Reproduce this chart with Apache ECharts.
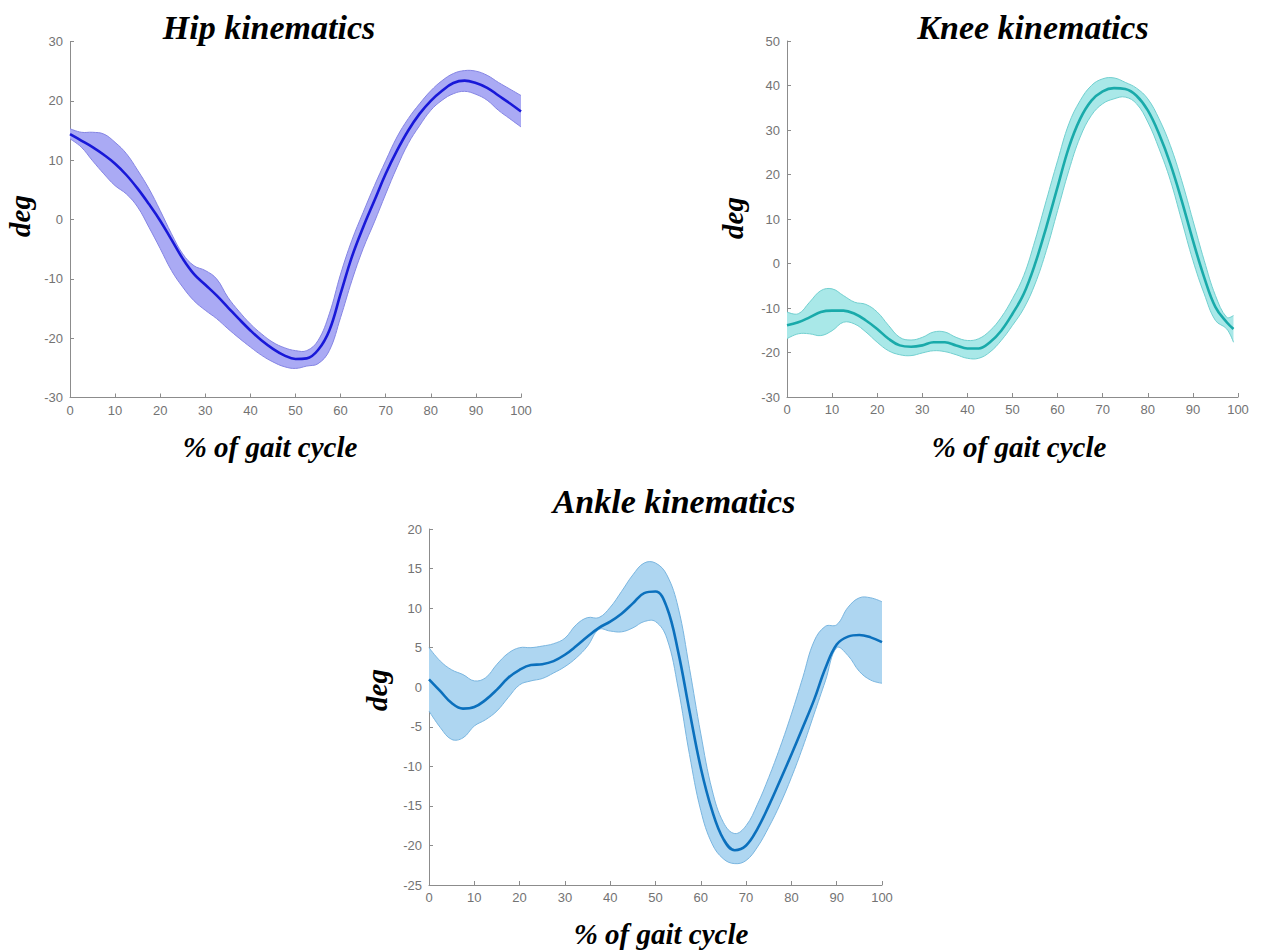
<!DOCTYPE html>
<html><head><meta charset="utf-8">
<script src="https://cdn.jsdelivr.net/npm/echarts@6/dist/echarts.min.js"></script>
<style>html,body{margin:0;padding:0;background:#fff}#c{width:1268px;height:951px}</style>
</head><body><div id="c"></div>
<script>
// % of gait cycle sample points
const pct = [0,2.5,5,7.5,10,12.5,15,17.5,20,22.5,25,27.5,30,32.5,35,37.5,40,42.5,45,47.5,50,52.5,55,57.5,60,62.5,65,67.5,70,72.5,75,77.5,80,82.5,85,87.5,90,92.5,95,97.5,100];
const kneePct = [0,2.5,5,7.5,10,12.5,15,17.5,20,22.5,25,27.5,30,32.5,35,37.5,40,42.5,45,47.5,50,52.5,55,57.5,60,62.5,65,67.5,70,72.5,75,77.5,80,82.5,85,87.5,90,92.5,95,97.5,99];

const hipMean  = [14.4,13.3,12.2,10.9,9.4,7.5,5.2,2.6,-0.2,-3.4,-6.6,-9.2,-11.0,-12.8,-14.8,-16.8,-18.7,-20.4,-21.8,-22.9,-23.5,-23.4,-22.0,-18.7,-12.5,-6.3,-1.3,3.2,7.7,11.6,15.0,17.8,20.0,21.7,23.0,23.4,23.0,22.2,20.9,19.6,18.2];
const hipUpper = [15.3,14.7,14.7,14.4,13.0,11.1,8.3,5.2,1.5,-2.4,-5.8,-7.8,-8.6,-10.0,-13.1,-15.5,-17.6,-19.3,-20.7,-21.6,-22.1,-22.1,-20.4,-15.9,-9.2,-3.5,1.2,5.7,9.9,13.9,17.0,19.5,21.7,23.4,24.6,25.1,25.0,24.3,23.1,22.0,20.9];
const hipLower = [13.6,12.2,9.9,7.7,5.7,4.3,2.1,-1.3,-4.9,-8.6,-11.4,-13.7,-15.3,-16.7,-18.4,-20.0,-21.5,-22.9,-24.0,-24.8,-25.1,-24.7,-24.3,-22.1,-16.5,-10.3,-4.9,-0.4,4.3,8.8,12.8,15.8,18.4,20.1,21.2,21.6,21.1,20.1,18.4,17.0,15.6];

const kneeMean  = [-13.9,-13.2,-12.1,-10.9,-10.6,-10.6,-11.3,-12.8,-14.7,-16.9,-18.4,-18.7,-18.4,-17.7,-17.7,-18.4,-19.1,-19.1,-17.7,-15.1,-11.3,-6.8,-0.1,8.2,17.2,26.1,32.5,36.6,38.7,39.4,39.2,37.7,34.4,29.1,22.4,14.2,5.2,-3.1,-9.8,-13.2,-14.7];
const kneeUpper = [-10.9,-11.3,-8.7,-6.1,-5.7,-7.2,-8.7,-9.2,-10.9,-13.9,-16.6,-17.2,-16.6,-15.4,-15.4,-16.6,-17.3,-16.9,-15.1,-12.1,-7.9,-2.7,5.2,14.2,23.1,31.4,36.6,40.0,41.5,41.7,40.7,39.4,37.0,32.5,26.5,18.7,9.7,0.7,-7.2,-12.1,-11.7];
const kneeLower = [-16.9,-15.8,-15.8,-16.2,-15.1,-13.2,-13.6,-15.4,-17.7,-19.6,-20.5,-20.7,-20.1,-19.6,-19.8,-20.5,-21.3,-21.3,-19.9,-17.3,-13.9,-10.1,-4.6,2.9,11.9,20.9,28.4,33.3,35.9,37.0,37.4,35.9,31.8,25.8,18.7,9.7,0.7,-6.8,-12.8,-14.7,-17.7];

const ankleMean  = [1.0,-0.5,-2.0,-2.7,-2.5,-1.6,-0.3,1.2,2.2,2.8,2.9,3.3,4.1,5.2,6.4,7.5,8.3,9.3,10.6,11.9,12.1,10.1,4.5,-3.0,-10.2,-15.6,-19.2,-20.6,-20.0,-17.9,-15.0,-11.8,-8.5,-5.1,-1.6,2.4,5.4,6.4,6.6,6.3,5.7];
const ankleUpper = [5.0,3.3,2.2,1.6,0.8,1.2,2.9,4.3,5.0,5.0,5.2,5.5,6.2,7.9,8.8,8.8,10.1,12.1,14.2,15.7,15.7,14.2,10.1,2.4,-5.9,-13.0,-17.1,-18.5,-17.5,-14.8,-11.4,-7.6,-3.4,1.2,5.8,7.7,7.9,10.1,11.3,11.3,10.8];
const ankleLower = [-3.0,-5.1,-6.6,-6.4,-4.9,-4.1,-3.0,-1.3,0.3,0.8,1.1,1.8,2.6,3.7,5.2,7.3,7.1,7.0,7.5,8.3,8.3,6.2,-0.1,-8.5,-15.6,-19.8,-21.7,-22.3,-21.9,-20.2,-17.7,-14.8,-11.4,-7.6,-3.4,0.8,5.0,4.0,2.0,0.9,0.5];

const titles = ['Hip kinematics','Knee kinematics','Ankle kinematics'];
const xName = '% of gait cycle';
const yName = 'deg';
const xTicks = {min:0, max:100, interval:10};
const yTicks = [{min:-30,max:30,interval:10},{min:-30,max:50,interval:10},{min:-25,max:20,interval:5}];

const grids = [
  {left:70, top:41.5, width:451, height:356},
  {left:787, top:41, width:451, height:356},
  {left:429, top:529, width:453, height:356}
];
const colors = [
  {line:'#1818d8', fill:'#aaaaf4', edge:'#8585e4'},
  {line:'#19aaaa', fill:'#a9e8e8', edge:'#72d0d0'},
  {line:'#0b70bd', fill:'#aed6f1', edge:'#7ab6e0'}
];
const sets = [
  {x:pct, mean:hipMean, up:hipUpper, lo:hipLower},
  {x:kneePct, mean:kneeMean, up:kneeUpper, lo:kneeLower},
  {x:pct, mean:ankleMean, up:ankleUpper, lo:ankleLower}
];

const axisColor = '#8c8c8c';
const labelColor = '#737373';
const sans = '"Liberation Sans", Arial, sans-serif';
const serif = '"Liberation Serif", "Times New Roman", serif';
const SM = 0.4;

const xAxis = [], yAxis = [], series = [];
grids.forEach((g, i) => {
  xAxis.push({type:'value', gridIndex:i, min:xTicks.min, max:xTicks.max, interval:xTicks.interval,
    axisLine:{show:true, onZero:false, lineStyle:{color:axisColor, width:1}},
    axisTick:{show:true, inside:true, length:4, lineStyle:{color:axisColor}},
    axisLabel:{color:labelColor, fontSize:13, fontFamily:sans, margin:6},
    splitLine:{show:false}});
  yAxis.push({type:'value', gridIndex:i, min:yTicks[i].min, max:yTicks[i].max, interval:yTicks[i].interval,
    axisLine:{show:true, onZero:false, lineStyle:{color:axisColor, width:1}},
    axisTick:{show:true, inside:true, length:4, lineStyle:{color:axisColor}},
    axisLabel:{color:labelColor, fontSize:13, fontFamily:sans, margin:7},
    splitLine:{show:false}});
  const s = sets[i], c = colors[i];
  // band (fill + edges) drawn through the axes' scales
  series.push({type:'custom', coordinateSystem:'cartesian2d', xAxisIndex:i, yAxisIndex:i,
    data:[[s.x[0], s.mean[0]]], clip:false, silent:true, z:1,
    renderItem: (params, api) => {
      const up = s.x.map((x, k) => api.coord([x, s.up[k]]));
      const lo = s.x.map((x, k) => api.coord([x, s.lo[k]]));
      const loRev = lo.slice().reverse();
      // duplicate the end points so the closed smoothing keeps sharp vertical ends
      const poly = [up[0]].concat(up, [up[up.length - 1]], [loRev[0]], loRev, [loRev[loRev.length - 1]]);
      return {type:'group', children:[
        {type:'polygon', shape:{points: poly, smooth:SM}, style:{fill:c.fill, stroke:null}},
        {type:'polyline', shape:{points: up, smooth:SM}, style:{fill:null, stroke:c.edge, lineWidth:1}},
        {type:'polyline', shape:{points: lo, smooth:SM}, style:{fill:null, stroke:c.edge, lineWidth:1}}
      ]};
    }});
  series.push({type:'line', xAxisIndex:i, yAxisIndex:i, data:s.x.map((x, k) => [x, s.mean[k]]),
    smooth:SM, symbol:'none', lineStyle:{color:c.line, width:2.6}, silent:true, z:3});
});

const titlePos = [[269,27],[1033,27],[674,501]];
const xNamePos = [[270,447],[1019,447],[661,934]];
const yNamePos = [[20,216],[733,218],[377,690]];
const graphic = [];
titles.forEach((t, i) => {
  graphic.push({type:'text', x:titlePos[i][0], y:titlePos[i][1], style:{text:t, font:'italic bold 34px ' + serif, fill:'#000', align:'center', verticalAlign:'middle'}});
  graphic.push({type:'text', x:xNamePos[i][0], y:xNamePos[i][1], style:{text:xName, font:'italic bold 29px ' + serif, fill:'#000', align:'center', verticalAlign:'middle'}});
  graphic.push({type:'text', x:yNamePos[i][0], y:yNamePos[i][1], rotation:Math.PI/2, style:{text:yName, font:'italic bold 29px ' + serif, fill:'#000', align:'center', verticalAlign:'middle'}});
});

const chart = echarts.init(document.getElementById('c'), null, {renderer:'svg'});
chart.setOption({
  animation:false,
  backgroundColor:'#ffffff',
  grid: grids.map(g => Object.assign({containLabel:false, outerBoundsMode:'none'}, g)),
  xAxis, yAxis, series, graphic
});
</script>
</body></html>
